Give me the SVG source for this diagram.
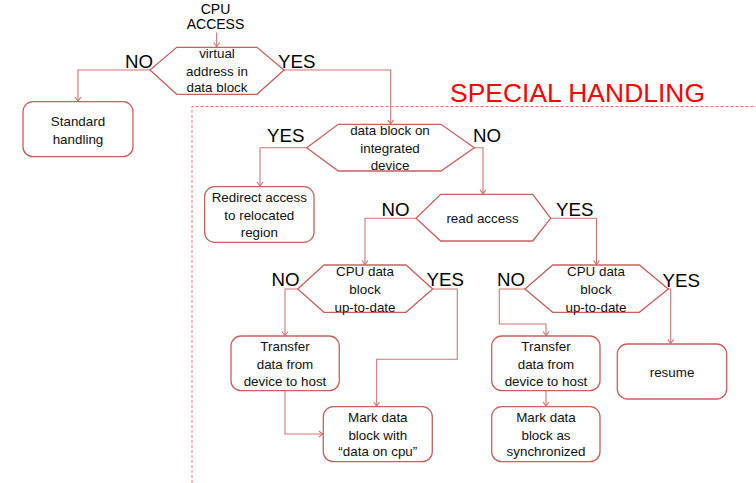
<svg xmlns="http://www.w3.org/2000/svg" width="756" height="483" viewBox="0 0 756 483">
<style>
.shape{fill:#fff;stroke:#C9605D;stroke-width:1.3}
.conn{fill:none;stroke:#D07572;stroke-width:1.1}
.t{font-family:"Liberation Sans",Arial,sans-serif;font-size:13.4px;fill:#111;text-anchor:middle}
.lbl{font-family:"Liberation Sans",Arial,sans-serif;font-size:18.7px;fill:#000}
.hdr{font-family:"Liberation Sans",Arial,sans-serif;font-size:14px;fill:#000;text-anchor:middle}
</style>
<defs>
<marker id="arr" markerUnits="userSpaceOnUse" markerWidth="10" markerHeight="10" viewBox="-6 -5 8 10" refX="0" refY="0" orient="auto">
<path d="M-4,-3 L0,0 L-4,3" fill="none" stroke="#D07572" stroke-width="1.1"/>
</marker>
</defs>
<rect width="756" height="483" fill="#fff"/>

<g id="special-region">
<path d="M192,483 V106.5 H756" fill="none" stroke="#FF7070" stroke-width="1" stroke-dasharray="3,2"/>
<text x="450" y="102" font-family="Liberation Sans,Arial,sans-serif" font-size="26.4px" textLength="255" fill="#FF0000">SPECIAL HANDLING</text>
</g>

<g id="cpu-access">
<text class="hdr" x="215.5" y="13.5">CPU</text>
<text class="hdr" x="215.5" y="28.5">ACCESS</text>
</g>

<g id="connectors">
<path class="conn" d="M216.7,32.5 V46.5" marker-end="url(#arr)"/>
<path class="conn" d="M150,70 H78 V101" marker-end="url(#arr)"/>
<path class="conn" d="M284,70 H390.7 V123.8" marker-end="url(#arr)"/>
<path class="conn" d="M306.7,147.7 H260 V186" marker-end="url(#arr)"/>
<path class="conn" d="M474.3,147.7 H483 V193.8" marker-end="url(#arr)"/>
<path class="conn" d="M416,218.3 H365 V264.5" marker-end="url(#arr)"/>
<path class="conn" d="M550.7,218.3 H596.5 V264.5" marker-end="url(#arr)"/>
<path class="conn" d="M297.7,289 H285 V335.5" marker-end="url(#arr)"/>
<path class="conn" d="M432.7,289 H457.3 V359.3 H376.7 V406" marker-end="url(#arr)"/>
<path class="conn" d="M285,390.7 V434 H322.8" marker-end="url(#arr)"/>
<path class="conn" d="M525,289 H499.3 V324 H546 V335.5" marker-end="url(#arr)"/>
<path class="conn" d="M668.3,289 H670.7 V343.3" marker-end="url(#arr)"/>
<path class="conn" d="M546,390.7 V406" marker-end="url(#arr)"/>
</g>

<g id="labels">
<text class="lbl" x="125" y="68">NO</text>
<text class="lbl" x="278" y="68">YES</text>
<text class="lbl" x="267" y="142">YES</text>
<text class="lbl" x="473" y="142">NO</text>
<text class="lbl" x="381.5" y="216">NO</text>
<text class="lbl" x="556" y="216">YES</text>
<text class="lbl" x="271.5" y="286">NO</text>
<text class="lbl" x="426.5" y="286">YES</text>
<text class="lbl" x="497" y="286">NO</text>
<text class="lbl" x="662.5" y="286.5">YES</text>
</g>

<g id="virtual-address">
<polygon class="shape" points="176.7,47.3 257,47.3 284,70 257,94.3 176.7,94.3 150,70"/>
<text class="t" x="217" y="57.5">virtual</text>
<text class="t" x="217" y="75.5">address in</text>
<text class="t" x="217" y="92">data block</text>
</g>

<g id="standard-handling">
<rect class="shape" x="23" y="101.7" width="110" height="55" rx="10"/>
<text class="t" x="78" y="126">Standard</text>
<text class="t" x="78" y="143.5">handling</text>
</g>

<g id="integrated-device">
<polygon class="shape" points="338.3,124.3 441,124.3 474.3,147.7 441,171 338.3,171 306.7,147.7"/>
<text class="t" x="390" y="134.5">data block on</text>
<text class="t" x="390" y="152.8">integrated</text>
<text class="t" x="390" y="169.5">device</text>
</g>

<g id="redirect">
<rect class="shape" x="204.6" y="186.7" width="109.4" height="55.6" rx="10"/>
<text class="t" x="259.3" y="201.5">Redirect access</text>
<text class="t" x="259.3" y="219.5">to relocated</text>
<text class="t" x="259.3" y="237">region</text>
</g>

<g id="read-access">
<polygon class="shape" points="440.7,194.3 532.7,194.3 550.7,218.3 532.7,241 440.7,241 416,218.3"/>
<text class="t" x="482.5" y="223">read access</text>
</g>

<g id="cpu-uptodate-left">
<polygon class="shape" points="324,265 406,265 432.7,289 406,312.3 324,312.3 297.7,289"/>
<text class="t" x="365" y="276.2">CPU data</text>
<text class="t" x="365" y="293.8">block</text>
<text class="t" x="365" y="311.8">up-to-date</text>
</g>

<g id="transfer-left">
<rect class="shape" x="231" y="336" width="108.3" height="54.7" rx="10"/>
<text class="t" x="285" y="351.2">Transfer</text>
<text class="t" x="285" y="368.8">data from</text>
<text class="t" x="285" y="386.2">device to host</text>
</g>

<g id="mark-cpu">
<rect class="shape" x="323.3" y="406.7" width="109" height="55" rx="10"/>
<text class="t" x="377.8" y="421.8">Mark data</text>
<text class="t" x="377.8" y="439.5">block with</text>
<text class="t" x="377.8" y="456.2">“data on cpu”</text>
</g>

<g id="cpu-uptodate-right">
<polygon class="shape" points="552.7,265 639.3,265 668.3,289 639.3,312.3 552.7,312.3 525,289"/>
<text class="t" x="596" y="276.2">CPU data</text>
<text class="t" x="596" y="293.8">block</text>
<text class="t" x="596" y="311.8">up-to-date</text>
</g>

<g id="transfer-right">
<rect class="shape" x="491.7" y="336" width="108.3" height="54.7" rx="10"/>
<text class="t" x="546" y="351.2">Transfer</text>
<text class="t" x="546" y="368.8">data from</text>
<text class="t" x="546" y="386.2">device to host</text>
</g>

<g id="mark-synchronized">
<rect class="shape" x="491.7" y="406.7" width="108.3" height="55" rx="10"/>
<text class="t" x="546" y="421.8">Mark data</text>
<text class="t" x="546" y="439.5">block as</text>
<text class="t" x="546" y="456.2">synchronized</text>
</g>

<g id="resume">
<rect class="shape" x="617.3" y="344" width="109.4" height="55" rx="10"/>
<text class="t" x="672" y="377.2">resume</text>
</g>
</svg>
